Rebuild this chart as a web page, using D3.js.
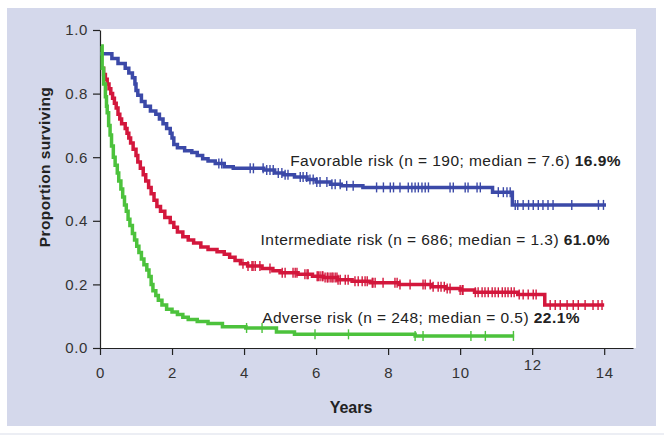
<!DOCTYPE html>
<html><head><meta charset="utf-8">
<script src="https://cdn.jsdelivr.net/npm/d3@7"></script>
<style>html,body{margin:0;padding:0;background:#fff}svg{display:block}</style>
</head><body>
<svg id="c" width="664" height="436"></svg>
<script>
// ---- data ----
const xTicks = [0, 2, 4, 6, 8, 10, 12, 14];
const yTicks = [0.0, 0.2, 0.4, 0.6, 0.8, 1.0];

const favTimes = [0, 0.33, 0.5, 0.7, 0.8, 0.9, 0.97, 1.0, 1.05, 1.15, 1.25, 1.4, 1.55, 1.65, 1.75, 1.85, 1.95, 2.0, 2.05, 2.15, 2.35, 2.55, 2.7, 2.85, 3.0, 3.2, 3.45, 3.7, 4.55, 4.85, 5.1, 5.4, 5.75, 6.0, 6.4, 6.7, 7.3, 10.9, 11.45, 14.05];
const favSurv  = [0.925, 0.91, 0.895, 0.88, 0.865, 0.85, 0.83, 0.81, 0.795, 0.775, 0.76, 0.745, 0.735, 0.72, 0.705, 0.69, 0.675, 0.66, 0.64, 0.63, 0.62, 0.615, 0.605, 0.595, 0.588, 0.58, 0.57, 0.565, 0.56, 0.55, 0.545, 0.538, 0.53, 0.522, 0.515, 0.51, 0.505, 0.49, 0.45, 0.45];
const favCens  = [3.3, 3.38, 4.17, 4.26, 4.53, 4.63, 4.72, 4.81, 4.95, 5.05, 5.14, 5.22, 5.56, 5.64, 5.74, 5.83, 5.92, 6.02, 6.11, 6.3, 6.44, 6.53, 6.67, 6.85, 7.03, 7.68, 7.87, 8.06, 8.15, 8.33, 8.56, 8.66, 8.75, 8.84, 8.94, 9.03, 9.12, 9.72, 9.81, 10.14, 10.22, 10.47, 10.56, 11.06, 11.2, 11.3, 11.39, 11.53, 11.6, 11.75, 11.9, 12.03, 12.17, 12.3, 12.44, 12.58, 13.1, 13.84, 13.98];

const intTimes = [0.05, 0.1, 0.15, 0.2, 0.25, 0.3, 0.35, 0.4, 0.45, 0.5, 0.55, 0.6, 0.7, 0.75, 0.8, 0.85, 0.92, 1.0, 1.05, 1.12, 1.2, 1.27, 1.35, 1.42, 1.5, 1.58, 1.68, 1.8, 1.95, 2.05, 2.15, 2.3, 2.45, 2.6, 2.8, 3.0, 3.25, 3.45, 3.6, 3.75, 3.9, 4.1, 4.5, 4.8, 5.0, 5.5, 5.9, 6.2, 6.6, 7.0, 7.5, 8.3, 9.2, 9.6, 10.0, 10.4, 11.6, 12.35, 14.0];
const intSurv  = [0.88, 0.86, 0.845, 0.83, 0.815, 0.80, 0.785, 0.77, 0.755, 0.735, 0.72, 0.705, 0.69, 0.675, 0.66, 0.645, 0.625, 0.605, 0.585, 0.565, 0.545, 0.525, 0.505, 0.485, 0.465, 0.445, 0.43, 0.41, 0.395, 0.38, 0.365, 0.35, 0.34, 0.33, 0.318, 0.31, 0.303, 0.295, 0.285, 0.275, 0.265, 0.258, 0.25, 0.243, 0.237, 0.232, 0.226, 0.222, 0.215, 0.21, 0.205, 0.2, 0.193, 0.187, 0.182, 0.175, 0.168, 0.135, 0.135];
const intCens  = [3.97, 4.11, 4.22, 4.25, 4.31, 4.44, 4.72, 5.06, 5.14, 5.36, 5.42, 5.47, 5.69, 5.75, 5.78, 6.03, 6.06, 6.11, 6.17, 6.19, 6.25, 6.31, 6.33, 6.39, 6.44, 6.47, 6.53, 6.58, 6.61, 6.67, 6.81, 6.89, 7.08, 7.17, 7.28, 7.36, 7.42, 7.56, 7.58, 7.64, 7.86, 8.19, 8.25, 8.33, 8.61, 8.97, 9.03, 9.17, 9.25, 9.39, 9.47, 9.56, 9.64, 9.72, 10.0, 10.06, 10.08, 10.42, 10.5, 10.61, 10.69, 10.78, 10.89, 10.97, 11.06, 11.17, 11.25, 11.33, 11.42, 11.5, 11.64, 11.75, 11.89, 12.03, 12.11, 12.5, 12.64, 12.78, 12.97, 13.14, 13.28, 13.47, 13.69, 13.83, 13.94];

const advTimes = [0.03, 0.06, 0.1, 0.15, 0.18, 0.2, 0.24, 0.28, 0.32, 0.37, 0.42, 0.48, 0.52, 0.58, 0.63, 0.68, 0.73, 0.78, 0.83, 0.9, 0.96, 1.02, 1.08, 1.15, 1.22, 1.3, 1.36, 1.42, 1.47, 1.55, 1.62, 1.72, 1.85, 2.0, 2.15, 2.3, 2.45, 2.7, 3.0, 3.4, 4.05, 4.9, 5.4, 8.75, 11.5];
const advSurv  = [0.95, 0.88, 0.83, 0.79, 0.76, 0.74, 0.70, 0.67, 0.635, 0.60, 0.575, 0.55, 0.525, 0.50, 0.475, 0.45, 0.43, 0.405, 0.385, 0.36, 0.34, 0.32, 0.30, 0.28, 0.262, 0.245, 0.225, 0.20, 0.18, 0.165, 0.15, 0.135, 0.122, 0.113, 0.105, 0.097, 0.09, 0.083, 0.077, 0.067, 0.063, 0.05, 0.043, 0.038, 0.038];
const advCens  = [4.07, 4.5, 5.97, 6.9, 8.75, 8.97, 10.3, 10.7, 11.48];

const seriesNames = ["Favorable", "Intermediate", "Adverse"];
const seriesColors = ["#3b49a8", "#d3173c", "#4cc23c"];
const labelMain = ["Favorable risk (n = 190; median = 7.6) ", "Intermediate risk (n = 686; median = 1.3) ", "Adverse risk (n = 248; median = 0.5) "];
const labelPct = ["16.9%", "61.0%", "22.1%"];

// ---- drawing ----
const svg = d3.select("#c");
const font = "'Liberation Sans', Arial, Helvetica, sans-serif";

svg.append("rect").attr("x", 7).attr("y", 8).attr("width", 649).attr("height", 418).attr("fill", "#d4d8eb");
svg.append("rect").attr("x", 0).attr("y", 433).attr("width", 664).attr("height", 2).attr("fill", "#eceef4");

const x = d3.scaleLinear().domain([0, 14.8]).range([100, 633]);
const y = d3.scaleLinear().domain([0, 1]).range([348, 30]);

svg.append("rect").attr("x", 100).attr("y", 29).attr("width", 536).attr("height", 319).attr("fill", "#fff");

const yAxis = svg.append("g").attr("transform", "translate(100,0)")
  .call(d3.axisLeft(y).tickValues(yTicks).tickFormat(d3.format(".1f")).tickSize(7).tickSizeOuter(0).tickPadding(5));
const xAxis = svg.append("g").attr("transform", "translate(0,348)")
  .call(d3.axisBottom(x).tickValues(xTicks).tickFormat(d3.format("d")).tickSize(7).tickSizeOuter(0).tickPadding(12));
[yAxis, xAxis].forEach(g => {
  g.selectAll("path,line").attr("stroke", "#222").attr("stroke-width", 1.2);
  g.selectAll("text").attr("fill", "#333").style("font-family", font).style("font-size", "15px").style("letter-spacing", "0.6px");
});
xAxis.selectAll(".tick text").filter(d => d === 12).attr("dy", "0.2em");

svg.append("text").attr("transform", "translate(50,167) rotate(-90)").attr("text-anchor", "middle")
  .style("font-family", font).style("font-size", "15.5px").style("font-weight", "bold").style("letter-spacing", "0.4px").attr("fill", "#222")
  .text("Proportion surviving");
svg.append("text").attr("x", 351).attr("y", 413).attr("text-anchor", "middle")
  .style("font-family", font).style("font-size", "16px").style("font-weight", "bold").attr("fill", "#222")
  .text("Years");

const series = [
  {t: favTimes, s: favSurv, c: favCens},
  {t: intTimes, s: intSurv, c: intCens},
  {t: advTimes, s: advSurv, c: advCens}
];
const line = d3.line().x(d => x(d[0])).y(d => y(d[1])).curve(d3.curveStepAfter);

function survAt(ser, tt) {
  let v = ser.s[0];
  for (let i = 0; i < ser.t.length; i++) { if (ser.t[i] <= tt) v = ser.s[i]; }
  return v;
}

series.forEach((ser, k) => {
  const pts = ser.t.map((t, i) => [t, ser.s[i]]);
  const g = svg.append("g");
  g.append("path").attr("d", line(pts)).attr("fill", "none")
    .attr("stroke", seriesColors[k]).attr("stroke-width", 3.5);
  g.selectAll("line.cens").data(ser.c).enter().append("line")
    .attr("x1", d => x(d)).attr("x2", d => x(d))
    .attr("y1", d => y(survAt(ser, d)) - 5).attr("y2", d => y(survAt(ser, d)) + 5)
    .attr("stroke", seriesColors[k]).attr("stroke-width", 1.4);
});

const labelPos = [[621, 165.5], [610, 244.5], [580, 322.5]];
labelMain.forEach((m, k) => {
  const t = svg.append("text").attr("x", labelPos[k][0]).attr("y", labelPos[k][1]).attr("text-anchor", "end")
    .style("font-family", font).style("font-size", "15.5px").style("letter-spacing", "0.45px").attr("fill", "#222");
  t.append("tspan").text(m);
  t.append("tspan").style("font-weight", "bold").text(labelPct[k]);
});
</script>
</body></html>
